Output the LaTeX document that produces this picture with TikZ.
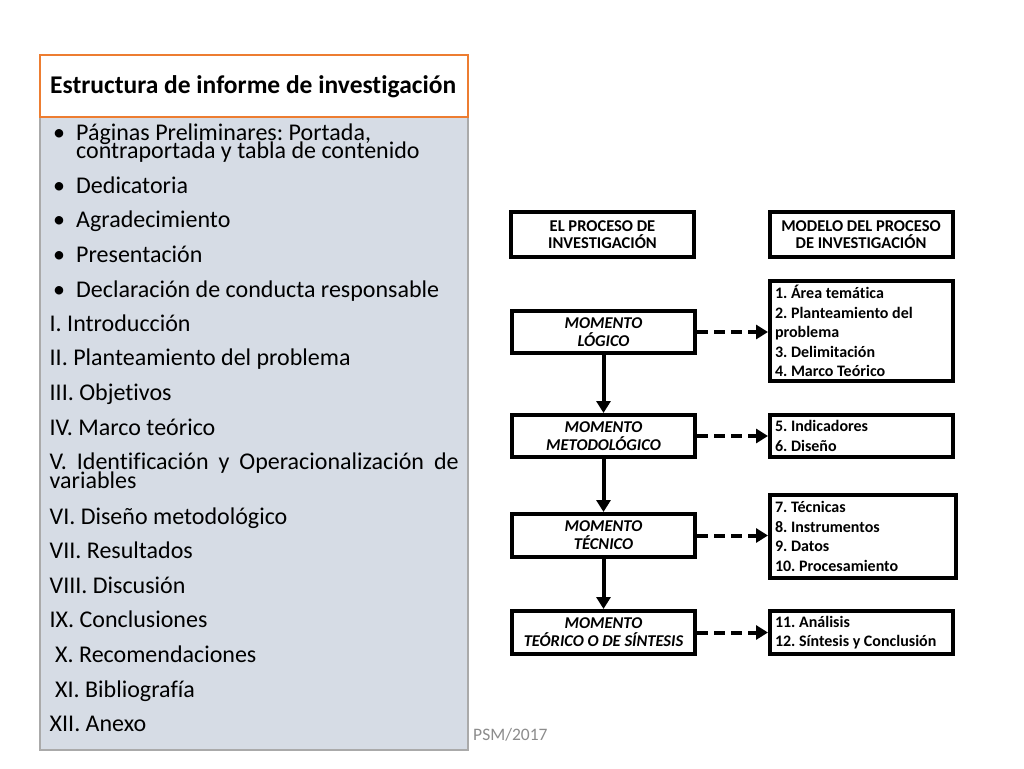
\documentclass[tikz,border=0pt]{standalone}
\usepackage{fontspec}
\setmainfont{Carlito}[Ligatures=NoCommon]
\usetikzlibrary{arrows.meta}

\definecolor{panelfill}{RGB}{214,220,229}
\definecolor{panelline}{RGB}{170,170,170}
\definecolor{titleline}{RGB}{237,125,49}
\newcommand\tightlines{\lineskiplimit=-50pt\lineskip=0pt\relax}
\frenchspacing

\tikzset{
  item/.style={anchor=base west, inner sep=0pt, font=\fontsize{24}{18.5}\selectfont\tightlines},
  box/.style={draw, line width=4pt, fill=white, minimum width=183pt, inner sep=0pt, align=center},
  head/.style={box, minimum height=45pt, font=\fontsize{16.5}{17.5}\selectfont\bfseries\tightlines},
  mom/.style={box, minimum height=42pt, font=\fontsize{16.5}{18}\selectfont\bfseries\itshape\tightlines},
  lst/.style={draw, line width=4pt, fill=white, text width=173pt, inner xsep=5pt, inner ysep=0pt, align=flush left, font=\fontsize{16}{19.5}\selectfont\bfseries\tightlines},
  flow/.style={line width=4pt, -{Triangle[length=12pt,width=14pt]}},
  link/.style={flow, dash pattern=on 11pt off 6pt}
}

\begin{document}
\begin{tikzpicture}[x=1pt,y=-1pt]
\fill[white] (0,0) rectangle (1024,768);
\useasboundingbox (0,0) rectangle (1024,768);

% panel on the left
\draw[panelline, fill=panelfill, line width=1.2pt] (40,117) rectangle (468,750);
\draw[titleline, fill=white, line width=1.2pt] (40,55) rectangle (468,117);
\node[anchor=base west, inner sep=0pt, font=\fontsize{25.5}{25.5}\selectfont\bfseries] (title) at (50,93) {Estructura de informe de investigación};

\node[item, text width=400pt, align=flush left] (b1) at (53,140) {\makebox[23pt][l]{•}Páginas Preliminares: Portada,\\\hspace*{23pt}contraportada y tabla de contenido};
\foreach \y/\txt [count=\i from 2] in {193/Dedicatoria, 227.5/Agradecimiento, 262/Presentación, 297/Declaración de conducta responsable}
  \node[item] (b\i) at (53,\y) {\makebox[23pt][l]{•}\txt};

\foreach \x/\y/\txt [count=\i] in {49.5/331/I. Introducción, 49.5/365.5/II. Planteamiento del problema, 49.5/400/III. Objetivos, 49.5/435/IV. Marco teórico}
  \node[item] (r\i) at (\x,\y) {\txt};
\node[item, text width=410pt, align=flush left] (r5) at (49.5,469.5) {\makebox[409pt][s]{V. Identificación y Operacionalización de}\\variables};
\foreach \x/\y/\txt [count=\i from 6] in {49.5/524/VI. Diseño metodológico, 49.5/558.5/VII. Resultados, 49.5/593/VIII. Discusión, 49.5/627.5/IX. Conclusiones, 55/662/X. Recomendaciones, 55/697/XI. Bibliografía, 49.5/731.5/XII. Anexo}
  \node[item] (r\i) at (\x,\y) {\txt};

\node[anchor=base west, inner sep=0pt, text=black!45, font=\fontsize{17.5}{18}\selectfont] (psm) at (473,740) {PSM/2017};

% diagram on the right
\node[head] (proc) at (602.5,234.5) {EL PROCESO DE\\INVESTIGACIÓN};
\node[head] (model) at (861,234.5) {MODELO DEL PROCESO\\DE INVESTIGACIÓN};

\node[mom] (log) at (603.5,332) {MOMENTO\\LÓGICO};
\node[mom] (met) at (603.5,436) {MOMENTO\\METODOLÓGICO};
\node[mom, minimum height=43pt] (tec) at (603.5,535.5) {MOMENTO\\TÉCNICO};
\node[mom, minimum height=43pt] (teo) at (603.5,632.5) {MOMENTO\\TEÓRICO O DE SÍNTESIS};

\node[lst, minimum height=100pt] (m1) at (861.5,331) {1. Área temática\\2. Planteamiento del\\problema\\3. Delimitación\\4. Marco Teórico};
\node[lst, minimum height=42pt] (m2) at (861.5,436) {5. Indicadores\\6. Diseño};
\node[lst, minimum height=83pt, text width=176pt] (m3) at (863,536.5) {7. Técnicas\\8. Instrumentos\\9. Datos\\10. Procesamiento};
\node[lst, minimum height=43pt] (m4) at (861.5,632.5) {11. Análisis\\12. Síntesis y Conclusión};

\draw[flow] (log) -- (met);
\draw[flow] (met) -- (tec);
\draw[flow] (tec) -- (teo);

\draw[link] (log.east) -- (log.east -| m1.west);
\draw[link] (met.east) -- (met.east -| m2.west);
\draw[link] (tec.east) -- (tec.east -| m3.west);
\draw[link] (teo.east) -- (teo.east -| m4.west);
\end{tikzpicture}
\end{document}
